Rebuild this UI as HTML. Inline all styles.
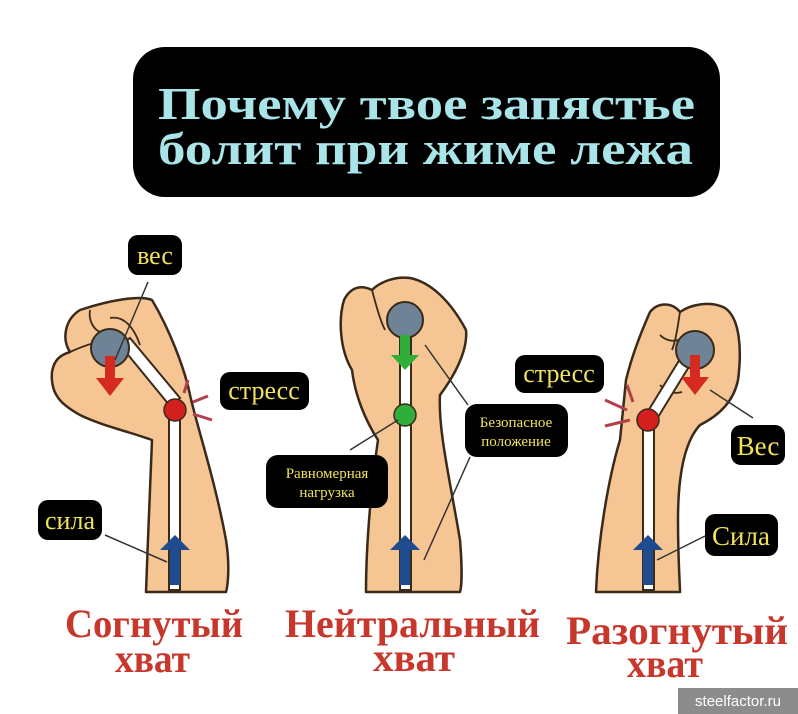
<!DOCTYPE html>
<html><head><meta charset="utf-8"><style>
html,body{margin:0;padding:0;background:#fff;}
svg{display:block;}
</style></head><body>
<svg width="798" height="714" viewBox="0 0 798 714" xmlns="http://www.w3.org/2000/svg">
<rect width="798" height="714" fill="#fff"/>
<rect x="133" y="47" width="587" height="150" rx="32" fill="#000"/>
<g font-family="Liberation Serif, serif" font-weight="bold" fill="#a9e4e8" font-size="46">
<text x="158" y="119" textLength="537" lengthAdjust="spacingAndGlyphs">Почему твое запястье</text>
<text x="158" y="164" textLength="535" lengthAdjust="spacingAndGlyphs">болит при жиме лежа</text>
</g>
<g stroke="#3a2a1a" stroke-width="2.5" fill="#f6c594" stroke-linejoin="round">
<path d="M146,592 C148,540 150,480 152,440 C130,432 100,425 80,415 C62,405 50,395 52,372 C54,360 60,355 70,352 C62,340 64,320 80,310 C110,300 140,295 152,300 C170,330 185,370 190,395 C198,430 215,480 226,540 C230,565 228,585 226,592 Z"/>
<path d="M366,592 C366,540 372,480 378,440 C365,420 355,395 352,370 C340,350 338,320 344,300 C350,288 360,284 372,290 C380,282 395,276 410,278 C430,282 450,300 466,330 C468,350 455,375 440,395 C438,430 450,480 460,540 C462,565 462,585 460,592 Z"/>
<path d="M596,592 C598,540 608,480 620,440 C622,420 624,400 626,380 C632,355 642,330 650,312 C658,302 672,302 680,312 C690,305 710,300 725,308 C740,318 742,350 738,380 C734,400 720,415 700,425 C686,440 678,470 678,520 C678,560 680,585 680,592 Z"/>
</g>
<g fill="none" stroke="#3a2a1a" stroke-width="1.8">
<path d="M70,352 C85,345 100,340 120,338"/><path d="M110,318 C125,315 135,330 140,345"/>
<path d="M90,310 C88,322 95,330 100,332"/>
<path d="M372,290 C376,305 380,320 385,330"/>
<path d="M680,312 C678,325 676,340 672,350"/><path d="M660,335 C665,340 672,342 678,340"/>
<path d="M660,385 C665,390 672,395 682,392"/>
</g>
<g fill="#fff" stroke="#3a2a1a" stroke-width="2">
<rect x="169" y="418" width="11" height="172"/>
<path d="M120,345 L130,338 L180,398 L170,406 Z"/>
<rect x="400" y="330" width="11" height="260"/>
<rect x="643" y="420" width="11" height="170"/>
<path d="M645,416 L655,422 L690,365 L680,359 Z"/>
</g>
<g fill="#6e8396" stroke="#3a2a1a" stroke-width="2">
<circle cx="110" cy="348" r="19"/><circle cx="405" cy="320" r="18"/><circle cx="695" cy="350" r="19"/>
</g>
<g stroke="#b0404a" stroke-width="3">
<line x1="188" y1="380" x2="184" y2="393"/><line x1="193" y1="402" x2="208" y2="396"/><line x1="193" y1="414" x2="212" y2="420"/>
<line x1="627" y1="385" x2="633" y2="402"/><line x1="605" y1="400" x2="627" y2="410"/><line x1="605" y1="426" x2="630" y2="420"/>
</g>
<circle cx="175" cy="410" r="11" fill="#d41f1f" stroke="#3a2a1a" stroke-width="1.5"/>
<circle cx="405" cy="415" r="11" fill="#2fae3a" stroke="#3a2a1a" stroke-width="1.5"/>
<circle cx="648" cy="420" r="11" fill="#d41f1f" stroke="#3a2a1a" stroke-width="1.5"/>
<g fill="#d42a1f">
<path d="M105,356 h10 v22 h9 l-14,18 l-14,-18 h9 z"/>
<path d="M690,355 h10 v22 h9 l-14,18 l-14,-18 h9 z"/>
</g>
<path d="M400,335 h10 v20 h9 l-14,15 l-14,-15 h9 z" fill="#2fae3a"/>
<g fill="#1f4b8f">
<path d="M170,585 v-35 h-10 l15,-15 l15,15 h-10 v35 z"/>
<path d="M400,585 v-35 h-10 l15,-15 l15,15 h-10 v35 z"/>
<path d="M643,585 v-35 h-10 l15,-15 l15,15 h-10 v35 z"/>
</g>
<g stroke="#333" stroke-width="1.5" fill="none">
<line x1="148" y1="282" x2="115" y2="360"/>
<line x1="105" y1="535" x2="167" y2="562"/>
<line x1="398" y1="420" x2="350" y2="450"/>
<line x1="425" y1="345" x2="468" y2="405"/>
<line x1="470" y1="457" x2="424" y2="560"/>
<line x1="710" y1="390" x2="753" y2="418"/>
<line x1="705" y1="536" x2="657" y2="560"/>
</g>
<g fill="#000">
<rect x="128" y="235" width="54" height="40" rx="10"/>
<rect x="220" y="372" width="89" height="38" rx="10"/>
<rect x="38" y="500" width="64" height="40" rx="10"/>
<rect x="266" y="455" width="122" height="53" rx="12"/>
<rect x="465" y="404" width="103" height="53" rx="12"/>
<rect x="515" y="355" width="89" height="38" rx="10"/>
<rect x="731" y="425" width="54" height="40" rx="10"/>
<rect x="705" y="514" width="73" height="42" rx="10"/>
</g>
<g font-family="Liberation Serif, serif" fill="#f1e25a" text-anchor="middle">
<text x="155" y="264" font-size="26">вес</text>
<text x="264" y="399" font-size="26">стресс</text>
<text x="70" y="529" font-size="26">сила</text>
<text x="327" y="478" font-size="15">Равномерная</text>
<text x="327" y="497" font-size="15">нагрузка</text>
<text x="516" y="427" font-size="15">Безопасное</text>
<text x="516" y="446" font-size="15">положение</text>
<text x="559" y="382" font-size="26">стресс</text>
<text x="758" y="455" font-size="27">Вес</text>
<text x="741" y="545" font-size="27">Сила</text>
</g>
<g font-family="Liberation Serif, serif" font-weight="bold" fill="#c7372c" font-size="40">
<text x="65" y="637" textLength="178" lengthAdjust="spacingAndGlyphs">Согнутый</text>
<text x="115" y="672" textLength="75" lengthAdjust="spacingAndGlyphs">хват</text>
<text x="285" y="637" textLength="255" lengthAdjust="spacingAndGlyphs">Нейтральный</text>
<text x="373" y="671" textLength="82" lengthAdjust="spacingAndGlyphs">хват</text>
<text x="566" y="644" textLength="222" lengthAdjust="spacingAndGlyphs">Разогнутый</text>
<text x="627" y="677" textLength="76" lengthAdjust="spacingAndGlyphs">хват</text>
</g>
<rect x="678" y="688" width="120" height="26" fill="#8c8c8c"/>
<text x="738" y="706" font-family="Liberation Sans, sans-serif" font-size="15" fill="#fff" text-anchor="middle">steelfactor.ru</text>
</svg>
</body></html>
